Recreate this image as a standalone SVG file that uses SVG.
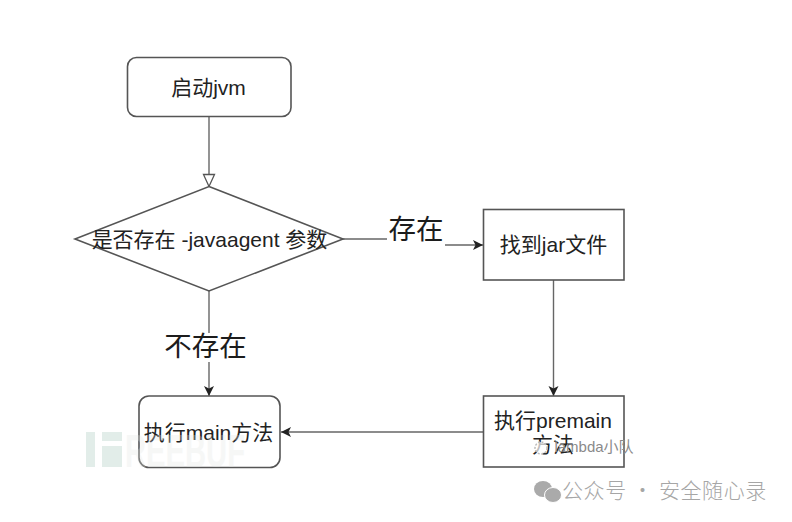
<svg xmlns="http://www.w3.org/2000/svg" width="792" height="522" viewBox="0 0 792 522">
<style>
text{font-family:"Liberation Sans","Noto Sans CJK SC",sans-serif;fill:#222;text-anchor:middle}
.n{fill:#fff;stroke:#555;stroke-width:1.6}
.c{fill:none;stroke:#666;stroke-width:1.4}
.l{font-size:21px}
.e{font-size:27.500px;fill:#1c1c1c}
.g{font-family:"Noto Sans CJK SC",sans-serif;font-size:21px;font-weight:300;fill:#a6a6a6;text-anchor:start;letter-spacing:.6px}
</style>
<defs>
<marker id="a" markerUnits="userSpaceOnUse" markerWidth="12" markerHeight="12" refX="10" refY="5" orient="auto"><path d="M0 0L10 5L0 10L2.500 5Z" fill="#222"/></marker>
</defs>
<rect width="792" height="522" fill="#fff"/>
<g id="connectors">
<path class="c" d="M209 117V175"/>
<path d="M209 186.500L203.500 174.500H214.500Z" fill="#fff" stroke="#555" stroke-width="1.300"/>
<path class="c" d="M343 239H387"/>
<path class="c" d="M445 245H483" marker-end="url(#a)"/>
<path class="c" d="M209 291V333"/>
<path class="c" d="M209 362V396" marker-end="url(#a)"/>
<path class="c" d="M553.500 280V396" marker-end="url(#a)"/>
<path class="c" d="M483 432H281" marker-end="url(#a)"/>
</g>
<g id="start"><rect class="n" x="127.500" y="57.500" width="163.500" height="59" rx="9"/><text class="l" x="208.500" y="95">启动jvm</text></g>
<g id="decision"><path class="n" d="M209 186.500L343 239L209 291L75 239Z"/><text class="l" x="209.500" y="247">是否存在 -javaagent 参数</text></g>
<g id="find-jar"><rect class="n" x="483.500" y="209.500" width="140.500" height="70.500"/><text class="l" x="553.500" y="252">找到jar文件</text></g>
<g id="premain"><rect class="n" x="483.500" y="396" width="140.500" height="71"/><text class="l" x="553" y="428">执行premain</text><text class="l" x="553" y="452">方法</text></g>
<g id="main"><rect class="n" x="139" y="396" width="141" height="71.500" rx="10"/><text class="l" x="208.500" y="440">执行main方法</text></g>
<text class="e" x="416" y="239">存在</text>
<text class="e" x="205.500" y="356">不存在</text>
<g id="watermark-freebuf">
<rect x="86" y="432" width="9" height="35" fill="#d5e6df" opacity=".7"/>
<rect x="102" y="432" width="20" height="9" fill="#d5e6df" opacity=".7"/>
<rect x="102" y="446" width="20" height="21" fill="#d5e6df" opacity=".7"/>
<text x="185" y="467" style="font-size:46px;font-weight:700;fill:#e4e6e4;opacity:.3" textLength="120" lengthAdjust="spacingAndGlyphs">REEBUF</text>
</g>
<g id="watermark-wechat">
<circle cx="541" cy="448" r="6" fill="#fff" fill-opacity=".7" stroke="#bbb" stroke-width="1.500" stroke-dasharray="2 1.500"/>
<text x="594" y="452" style="font-size:15px;fill:#8a8a8a">lambda小队</text>
<ellipse cx="543" cy="489" rx="9" ry="8" fill="#aaa"/>
<ellipse cx="553" cy="495" rx="8.500" ry="7.500" fill="#aaa" stroke="#fff" stroke-width="1"/>
<text class="g" x="562" y="498">公众号 · 安全随心录</text>
</g>
</svg>
